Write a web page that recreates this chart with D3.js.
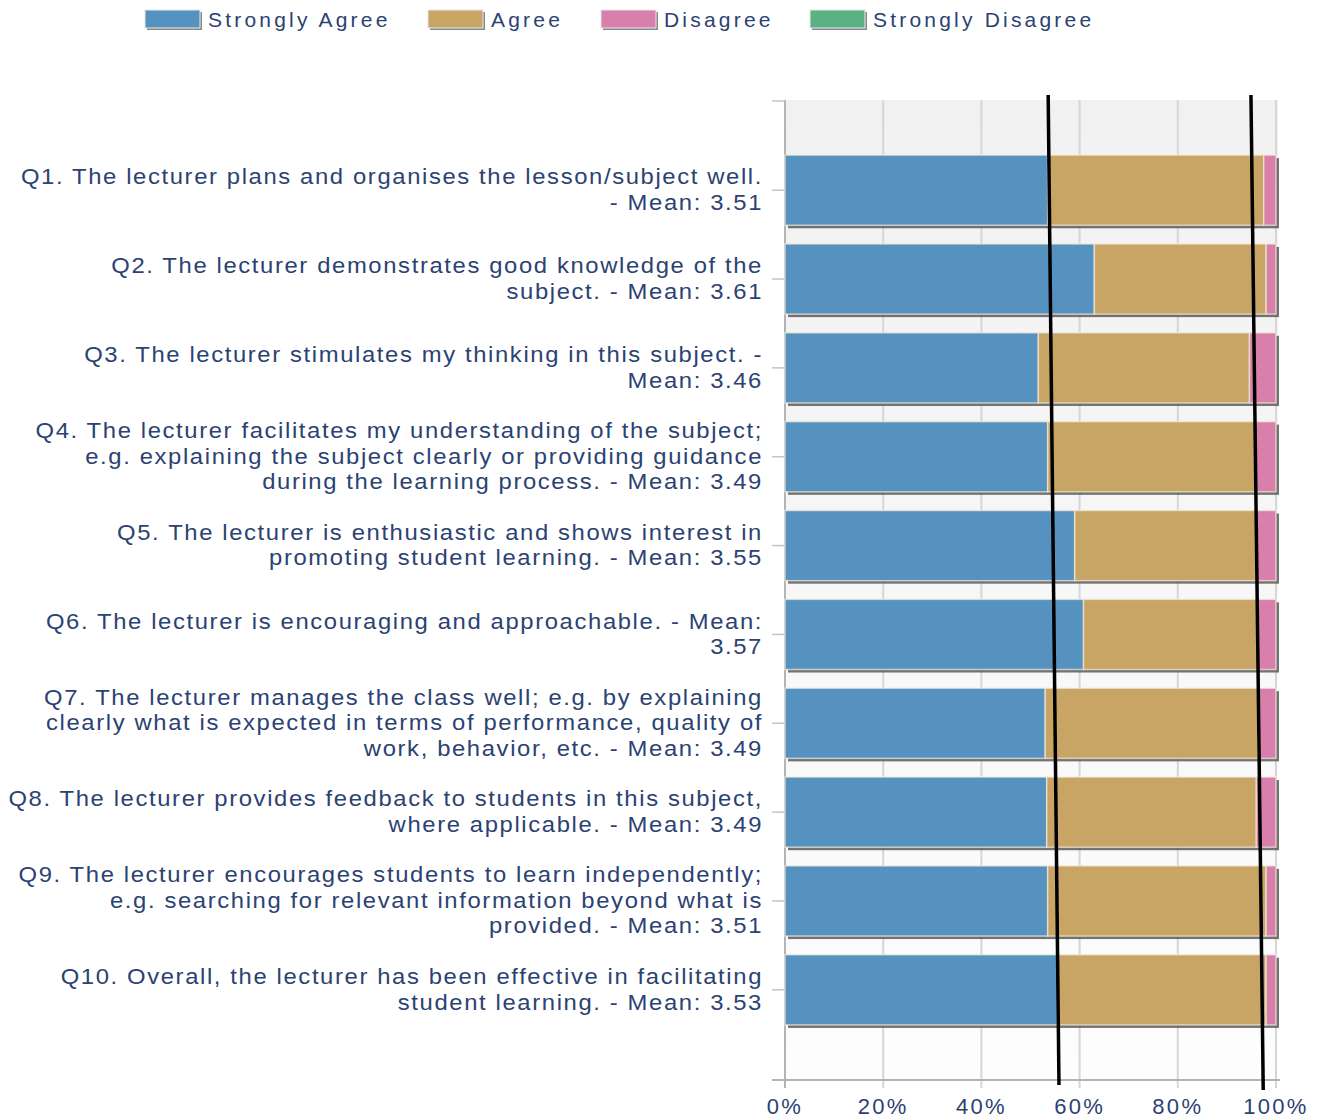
<!DOCTYPE html>
<html>
<head>
<meta charset="utf-8">
<script src="https://cdn.jsdelivr.net/npm/d3@7"></script>
<style>
  body { margin: 0; background: #fff; }
  text { font-family: "Liberation Sans", Arial, sans-serif; }
</style>
</head>
<body>
<script>
// survey results, percent of responses per question
var questions = ["Q1", "Q2", "Q3", "Q4", "Q5", "Q6", "Q7", "Q8", "Q9", "Q10"];
var questionLabels = [
  ["Q1. The lecturer plans and organises the lesson/subject well.", "- Mean: 3.51"],
  ["Q2. The lecturer demonstrates good knowledge of the", "subject. - Mean: 3.61"],
  ["Q3. The lecturer stimulates my thinking in this subject. -", "Mean: 3.46"],
  ["Q4. The lecturer facilitates my understanding of the subject;", "e.g. explaining the subject clearly or providing guidance", "during the learning process. - Mean: 3.49"],
  ["Q5. The lecturer is enthusiastic and shows interest in", "promoting student learning. - Mean: 3.55"],
  ["Q6. The lecturer is encouraging and approachable. - Mean:", "3.57"],
  ["Q7. The lecturer manages the class well; e.g. by explaining", "clearly what is expected in terms of performance, quality of", "work, behavior, etc. - Mean: 3.49"],
  ["Q8. The lecturer provides feedback to students in this subject,", "where applicable. - Mean: 3.49"],
  ["Q9. The lecturer encourages students to learn independently;", "e.g. searching for relevant information beyond what is", "provided. - Mean: 3.51"],
  ["Q10. Overall, the lecturer has been effective in facilitating", "student learning. - Mean: 3.53"]
];
var stronglyAgree    = [53.5, 63, 51.6, 53.5, 59, 60.8, 53, 53.3, 53.5, 55.5];
var agree            = [44, 35, 43, 42.3, 37, 35.6, 43.3, 42.7, 44.5, 42.5];
var disagree         = [2.5, 2, 5.4, 4.2, 4, 3.6, 3.7, 4, 2, 2];
var stronglyDisagree = [0, 0, 0, 0, 0, 0, 0, 0, 0, 0];

var seriesNames = ["Strongly Agree", "Agree", "Disagree", "Strongly Disagree"];
var seriesColors = ["#5692c0", "#c8a465", "#d87fac", "#5cb184"];
var xTicks = [0, 20, 40, 60, 80, 100];

// hand drawn reference lines (percent at top / bottom of the plot)
var refLines = [{top: 53.6, bottom: 55.8}, {top: 94.9, bottom: 97.4}];

var width = 1332, height = 1119;
var margin = {top: 100, right: 56, bottom: 39, left: 785};

var rows = questions.map(function(q, i) {
  return {q: q, "Strongly Agree": stronglyAgree[i], "Agree": agree[i],
          "Disagree": disagree[i], "Strongly Disagree": stronglyDisagree[i]};
});
var stacked = d3.stack().keys(seriesNames)(rows);

var x = d3.scaleLinear().domain([0, 100]).range([margin.left, width - margin.right]);
var y = d3.scaleBand().domain(questions)
    .range([margin.top, height - margin.bottom])
    .paddingInner(0.21).paddingOuter(0.62);
var color = d3.scaleOrdinal(seriesNames, seriesColors);

var svg = d3.select("body").append("svg")
    .attr("width", width).attr("height", height);

var defs = svg.append("defs");
var grad = defs.append("linearGradient").attr("id", "bg")
    .attr("x1", 0).attr("y1", 0).attr("x2", 0).attr("y2", 1);
grad.append("stop").attr("offset", "0%").attr("stop-color", "#f1f1f1");
grad.append("stop").attr("offset", "100%").attr("stop-color", "#fdfdfd");

var plotBottom = height - margin.bottom;

// plot background
svg.append("rect")
    .attr("x", x(0)).attr("y", margin.top)
    .attr("width", x(100) - x(0) + 2).attr("height", plotBottom - margin.top)
    .attr("fill", "url(#bg)");

// grid
svg.append("g").selectAll("line").data(xTicks.slice(1)).join("line")
    .attr("x1", d => x(d)).attr("x2", d => x(d))
    .attr("y1", margin.top).attr("y2", plotBottom + 8)
    .attr("stroke", "#d6d6d6").attr("stroke-width", 2);

// y axis
svg.append("line")
    .attr("x1", x(0)).attr("x2", x(0))
    .attr("y1", margin.top).attr("y2", plotBottom + 8)
    .attr("stroke", "#b4b4b4").attr("stroke-width", 2);
var yTickPos = [margin.top + 1].concat(questions.map(q => y(q) + y.bandwidth() / 2));
svg.append("g").selectAll("line").data(yTickPos).join("line")
    .attr("x1", x(0) - 13).attr("x2", x(0))
    .attr("y1", d => d).attr("y2", d => d)
    .attr("stroke", "#c4c4c4").attr("stroke-width", 1.5);

// x axis
svg.append("line")
    .attr("x1", x(0) - 13).attr("x2", x(100) + 4)
    .attr("y1", plotBottom).attr("y2", plotBottom)
    .attr("stroke", "#b4b4b4").attr("stroke-width", 2);
svg.append("g").selectAll("text").data(xTicks).join("text")
    .attr("x", d => x(d)).attr("y", plotBottom + 34)
    .attr("text-anchor", "middle")
    .attr("font-size", 22).attr("letter-spacing", 2.3)
    .attr("fill", "#2b4272")
    .text(d => d + "%");

// bar shadows
svg.append("g").selectAll("rect").data(rows).join("rect")
    .attr("x", x(0) + 3).attr("y", d => y(d.q) + 3)
    .attr("width", x(100) - x(0)).attr("height", y.bandwidth())
    .attr("fill", "#5a5a5a").attr("opacity", 0.85);

// bars
svg.append("g").selectAll("g").data(stacked).join("g")
    .attr("fill", d => color(d.key))
  .selectAll("rect").data(d => d).join("rect")
    .attr("x", d => x(d[0]))
    .attr("y", d => y(d.data.q))
    .attr("width", d => Math.max(0, x(d[1]) - x(d[0])))
    .attr("height", y.bandwidth())
    .attr("stroke", "#f4ecdc").attr("stroke-opacity", 0.7).attr("stroke-width", 1.5);

// question labels (slightly stretched glyphs like the original)
var lineH = 25.5;
svg.append("g")
    .attr("transform", "translate(763,0) scale(1.083,1)")
  .selectAll("text").data(questions).join("text")
    .attr("text-anchor", "end")
    .attr("font-size", 22).attr("letter-spacing", 1.5)
    .attr("fill", "#2b4272")
    .each(function(q, i) {
      var lines = questionLabels[i];
      var cy = y(q) + y.bandwidth() / 2 - 3;
      var y0 = cy - (lines.length - 1) * lineH / 2 + 10;
      d3.select(this).selectAll("tspan").data(lines).join("tspan")
          .attr("x", 0)
          .attr("y", (d, j) => y0 + j * lineH)
          .text(d => d);
    });

// legend
var legendX = [145, 428, 601, 810];
var legend = svg.append("g").selectAll("g").data(seriesNames).join("g")
    .attr("transform", (d, i) => "translate(" + legendX[i] + ",10)");
legend.append("rect")
    .attr("x", 2).attr("y", 2).attr("width", 55).attr("height", 18)
    .attr("fill", "#888");
legend.append("rect")
    .attr("width", 55).attr("height", 18)
    .attr("fill", d => color(d))
    .attr("stroke", "#e8e8e8").attr("stroke-width", 1);
legend.append("text")
    .attr("x", 63).attr("y", 16.5)
    .attr("font-size", 21).attr("letter-spacing", 3.2)
    .attr("fill", "#2b4272")
    .text(d => d);

// reference lines
svg.append("g").selectAll("line").data(refLines).join("line")
    .attr("x1", d => x(d.top)).attr("y1", margin.top - 5)
    .attr("x2", d => x(d.bottom)).attr("y2", (d, i) => plotBottom + 5 + i * 5)
    .attr("stroke", "#000").attr("stroke-width", 3.5);
</script>
</body>
</html>
